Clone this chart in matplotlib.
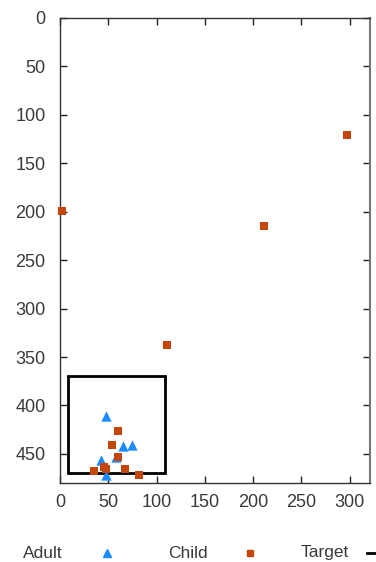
import matplotlib
matplotlib.use("Agg")
import matplotlib.pyplot as plt
from matplotlib.lines import Line2D
from matplotlib.patches import Rectangle

# adult points (blue triangles)
adult_x = [48, 65, 74, 58, 42, 47]
adult_y = [411, 442, 441, 453, 456, 472]

# child points (orange squares)
child_x = [2, 297, 211, 111, 60, 54, 60, 45, 47, 35, 67, 82]
child_y = [199, 121, 215, 338, 426, 441, 453, 464, 466, 468, 466, 472]

# target box
box_x = [8, 109]
box_y = [370, 470]

x_ticks = [0, 50, 100, 150, 200, 250, 300]
y_ticks = [0, 50, 100, 150, 200, 250, 300, 350, 400, 450]

blue = '#1a8cff'
orange = '#c4460a'
txt = '#3a3a3a'

plt.rcParams['font.family'] = ['Liberation Sans', 'DejaVu Sans']

fig = plt.figure(figsize=(3.76, 5.62), dpi=100)
ax = fig.add_axes([0.160, 0.1406, 0.824, 0.8274])

ax.add_patch(Rectangle((box_x[0], box_y[0]), box_x[1] - box_x[0], box_y[1] - box_y[0],
                       fill=False, edgecolor='black', linewidth=2, zorder=2))
ax.scatter(adult_x, adult_y, marker='^', s=55, color=blue, linewidths=0, zorder=3, clip_on=False)
ax.scatter(child_x, child_y, marker='s', s=40, color=orange, linewidths=0, zorder=4, clip_on=False)

ax.set_xlim(0, 321)
ax.set_ylim(480, 0)
ax.set_xticks(x_ticks)
ax.set_yticks(y_ticks)
ax.tick_params(direction='in', length=5, width=1, color='#222222', labelsize=13,
               labelcolor=txt, top=True, right=True)
ax.tick_params(axis='y', pad=10.5)
ax.tick_params(axis='x', pad=8)
for s in ax.spines.values():
    s.set_color('#333333')
    s.set_linewidth(1)
ax.spines['right'].set_color('#777777')
ax.spines['right'].set_linewidth(1.5)

# legend row along the bottom
ly = 1 - 553 / 562
fig.text(23 / 376, ly, 'Adult', fontsize=12.5, color=txt, va='center', ha='left')
fig.add_artist(Line2D([107 / 376], [ly], marker='^', markersize=6, color=blue, linestyle='none',
                      transform=fig.transFigure))
fig.text(168 / 376, ly, 'Child', fontsize=12.5, color=txt, va='center', ha='left')
fig.add_artist(Line2D([250 / 376], [ly], marker='s', markersize=5, color=orange, linestyle='none',
                      transform=fig.transFigure))
fig.text(301 / 376, ly, 'Target', fontsize=12.5, color=txt, va='center', ha='left')
fig.add_artist(Line2D([367 / 376, 376 / 376], [ly, ly], color='black', linewidth=2,
                      transform=fig.transFigure))

fig.savefig('out.png', dpi=100)
